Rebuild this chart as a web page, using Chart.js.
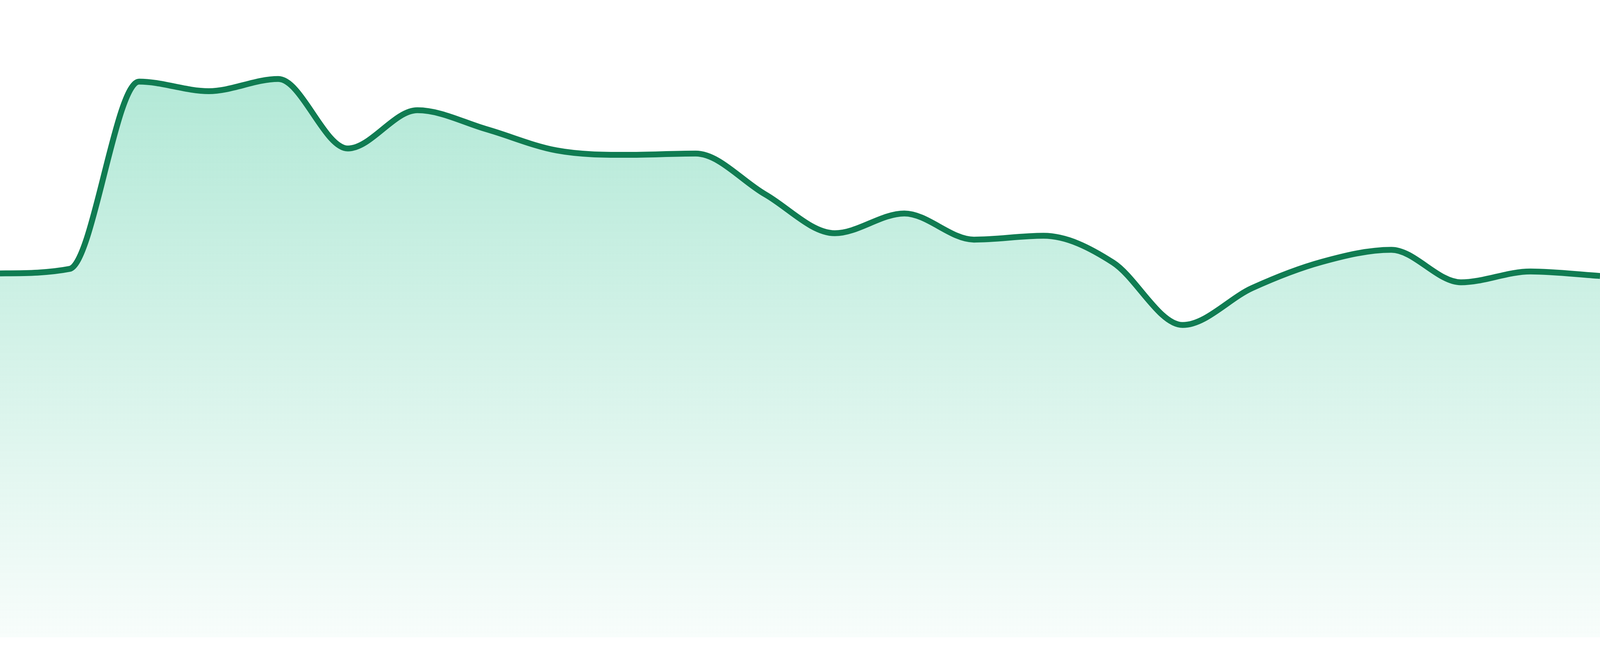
<!DOCTYPE html>
<html>
<head>
<meta charset="utf-8">
<script src="https://cdn.jsdelivr.net/npm/chart.js@4"></script>
<style>
  html, body { margin: 0; padding: 0; background: #ffffff; overflow: hidden; }
  #wrap { position: relative; width: 100vw; height: 100vh; }
</style>
</head>
<body>
<div id="wrap"><canvas id="myChart"></canvas></div>
<script>
// données du graphique
const labels = [
  '01', '02', '03', '04', '05', '06', '07', '08', '09', '10', '11', '12',
  '13', '14', '15', '16', '17', '18', '19', '20', '21', '22', '23', '24'
];
const values = [
  57.1, 57.8, 87.2, 85.7, 87.6, 76.7, 82.7, 79.7, 76.4, 75.7, 75.9, 69.5,
  63.4, 66.5, 62.4, 63.0, 58.8, 49.0, 54.8, 58.9, 60.8, 55.7, 57.4, 56.7
];
const yMin = 0;
const yMax = 100;

const lineColor = 'rgb(16, 124, 82)';

// échelle verticale par rapport à l'image de référence (hauteur 1680)
const sy = window.innerHeight / 1680;

/**
 * dégradé vertical du remplissage
 * @param {*} context
 */
function fillGradient(context) {
    const chart = context.chart;
    const area = chart.chartArea;
    if (!area) {
        return 'rgba(16, 185, 129, 0.2)';
    }
    const g = chart.ctx.createLinearGradient(0, area.top, 0, area.bottom);
    g.addColorStop(0, 'rgba(16, 185, 129, 0.36)');
    g.addColorStop(1, 'rgba(16, 185, 129, 0.03)');
    return g;
}

const canvas = document.getElementById('myChart');
const ctx = canvas.getContext('2d');

const myChart = new Chart(ctx, {
    type: 'line',
    data: {
        labels: labels,
        datasets: [{
            data: values,
            borderColor: lineColor,
            borderWidth: 15 * sy,
            backgroundColor: fillGradient,
            fill: 'start',
            cubicInterpolationMode: 'monotone',
            pointRadius: 0,
            pointHoverRadius: 0
        }]
    },
    options: {
        responsive: true,
        maintainAspectRatio: false,
        animation: false,
        layout: {
            padding: { top: 0, right: 0, bottom: Math.round(48 * sy), left: 0 }
        },
        plugins: {
            legend: { display: false },
            tooltip: { enabled: false }
        },
        scales: {
            x: { display: false, offset: false },
            y: { display: false, min: yMin, max: yMax }
        }
    }
});
</script>
</body>
</html>
